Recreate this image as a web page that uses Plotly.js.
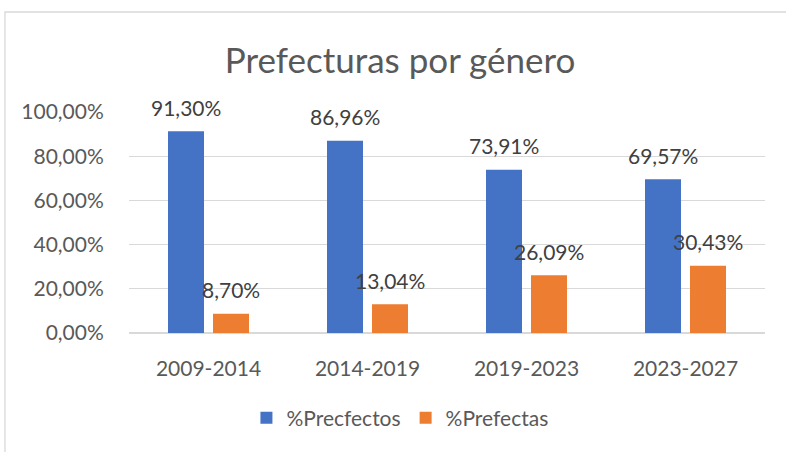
<!DOCTYPE html>
<html>
<head>
<meta charset="utf-8">
<script src="https://cdn.plot.ly/plotly-3.0.1.min.js"></script>
<style>html,body{margin:0;padding:0;background:#fff;}#chart{width:786px;height:452px;}</style>
</head>
<body>
<div id="chart"></div>
<script>
const categories = ["2009-2014", "2014-2019", "2019-2023", "2023-2027"];
const prefectos = [0.9130, 0.8696, 0.7391, 0.6957];
const prefectas = [0.0870, 0.1304, 0.2609, 0.3043];
const seriesNames = ["%Precfectos", "%Prefectas"];
const yTicks = [0, 0.2, 0.4, 0.6, 0.8, 1.0];

const FONT = "Lato, Carlito, Calibri, sans-serif";
const colors = ["#4472C4", "#ED7D31"];

function fmt(v) { return (v * 100).toFixed(2).replace('.', ',') + '%'; }

const traces = [prefectos, prefectas].map((vals, i) => ({
  type: 'bar', x: categories, y: vals, name: seriesNames[i],
  marker: {color: colors[i]}, hoverinfo: 'skip'
}));

const annotations = [];
[prefectos, prefectas].forEach((vals, i) => {
  vals.forEach((v, j) => {
    annotations.push({
      x: categories[j], y: v, xref: 'x', yref: 'y', text: fmt(v),
      showarrow: false, xshift: i === 0 ? -22.5 : 22.5, yshift: 24,
      yanchor: 'middle', xanchor: 'center',
      font: {family: FONT, size: 21, color: '#404040'}
    });
  });
});

const layout = {
  width: 786, height: 452,
  margin: {l: 129, r: 21, t: 112, b: 119},
  paper_bgcolor: '#fff', plot_bgcolor: '#fff',
  separators: ',.',
  barmode: 'group', bargap: 0.434, bargroupgap: 0.2,
  title: {text: 'Prefecturas por género', x: 0.509, xref: 'container', xanchor: 'center',
          y: 0.865, yref: 'container', yanchor: 'middle',
          font: {family: FONT, size: 35, color: '#595959'}},
  xaxis: {type: 'category', showgrid: false, showline: false, zeroline: false,
          ticks: 'outside', ticklen: 17, tickcolor: 'rgba(0,0,0,0)',
          tickfont: {family: FONT, size: 21, color: '#595959'}},
  yaxis: {range: [0, 1], tickvals: yTicks, tickformat: '.2%',
          showgrid: true, gridcolor: '#d9d9d9', gridwidth: 1.3,
          zeroline: true, zerolinecolor: '#d9d9d9', zerolinewidth: 1.3,
          ticks: 'outside', ticklen: 20, tickcolor: 'rgba(0,0,0,0)',
          tickfont: {family: FONT, size: 21, color: '#595959'}},
  showlegend: true,
  legend: {orientation: 'h', x: 0.426, xanchor: 'center', y: -0.385, yanchor: 'middle',
           font: {family: FONT, size: 21, color: '#595959'}},
  annotations: annotations,
  shapes: [{type: 'rect', xref: 'paper', yref: 'paper', x0: -0.195, x1: 1.05, y0: -0.6, y1: 1.4525,
            line: {color: '#d9d9d9', width: 1.3}, fillcolor: 'rgba(0,0,0,0)', layer: 'below'}]
};

Plotly.newPlot('chart', traces, layout, {staticPlot: true, displayModeBar: false});
</script>
</body>
</html>
